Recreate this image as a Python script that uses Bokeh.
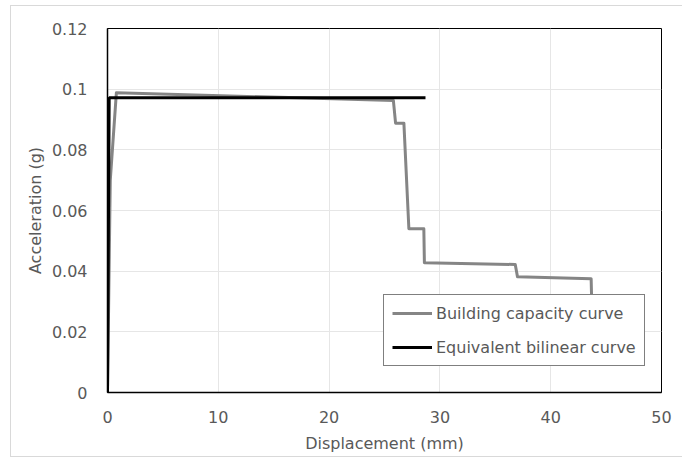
from bokeh.plotting import figure
from bokeh.models import FixedTicker, Legend, LegendItem, Range1d
from bokeh.embed import file_html
from bokeh.resources import INLINE

# Pushover capacity curve of the building (displacement in mm, acceleration in g)
capacity_disp = [0, 0.25, 0.8, 25.8, 26.0, 26.75, 27.2, 28.55, 28.6, 36.8, 37.0, 43.65, 43.7]
capacity_acc = [0, 0.070, 0.0988, 0.0963, 0.0888, 0.0888, 0.054, 0.054, 0.0428, 0.0422, 0.0382, 0.0375, 0.030]

# Equivalent elastic-perfectly-plastic idealisation
bilinear_disp = [0, 0.15, 28.7]
bilinear_acc = [0, 0.0972, 0.0972]

x_ticks = [0, 10, 20, 30, 40, 50]
y_ticks = [0, 0.02, 0.04, 0.06, 0.08, 0.1, 0.12]
y_tick_labels = ["0", "0.02", "0.04", "0.06", "0.08", "0.1", "0.12"]

FONT = "DejaVu Sans"
TEXT = "#595959"

p = figure(
    width=672, height=450,
    frame_width=554, frame_height=364,
    min_border_left=96, min_border_right=22, min_border_top=22, min_border_bottom=64,
    x_range=Range1d(0, 50), y_range=Range1d(0, 0.12),
    output_backend="svg", toolbar_location=None,
    margin=(5, 0, 0, 10),
)
p.styles = {"border": "1px solid #d9d9d9"}

p.outline_line_color = "black"
p.outline_line_width = 1

for ax in (p.xaxis[0], p.yaxis[0]):
    ax.major_tick_line_color = None
    ax.minor_tick_line_color = None
    ax.axis_line_color = "black"
    ax.axis_line_width = 1.5
    ax.major_label_text_font = FONT
    ax.major_label_text_font_size = "16px"
    ax.major_label_text_color = TEXT
    ax.axis_label_text_font = FONT
    ax.axis_label_text_font_size = "16px"
    ax.axis_label_text_color = TEXT
    ax.axis_label_text_font_style = "normal"

p.xaxis.ticker = FixedTicker(ticks=x_ticks)
p.yaxis.ticker = FixedTicker(ticks=y_ticks)
p.yaxis.major_label_overrides = {t: s for t, s in zip(y_ticks, y_tick_labels)}
p.xaxis.axis_label = "Displacement (mm)"
p.yaxis.axis_label = "Acceleration (g)"
p.xaxis.major_label_standoff = 12
p.yaxis.major_label_standoff = 14
p.xaxis.axis_label_standoff = 8
p.yaxis.axis_label_standoff = 4

p.xgrid.grid_line_color = "#e6e6e6"
p.ygrid.grid_line_color = "#e6e6e6"
p.xgrid.ticker = FixedTicker(ticks=x_ticks)
p.ygrid.ticker = FixedTicker(ticks=y_ticks)

cap = p.line(capacity_disp, capacity_acc, line_color="#858585", line_width=3, line_join="round")
bil = p.line(bilinear_disp, bilinear_acc, line_color="black", line_width=3)

legend = Legend(
    items=[
        LegendItem(label="Building capacity curve", renderers=[cap]),
        LegendItem(label="Equivalent bilinear curve", renderers=[bil]),
    ],
    location=(276, 26),
    orientation="vertical",
    border_line_color="black",
    border_line_width=1,
    background_fill_color="white",
    background_fill_alpha=1.0,
    label_text_font=FONT,
    label_text_font_size="16px",
    label_text_color=TEXT,
    glyph_width=40,
    glyph_height=20,
    label_height=20,
    label_standoff=4,
    spacing=14,
    padding=8,
    margin=0,
)
legend.padding = 8
p.add_layout(legend, "center")

open("out.html", "w").write(file_html(p, INLINE))
